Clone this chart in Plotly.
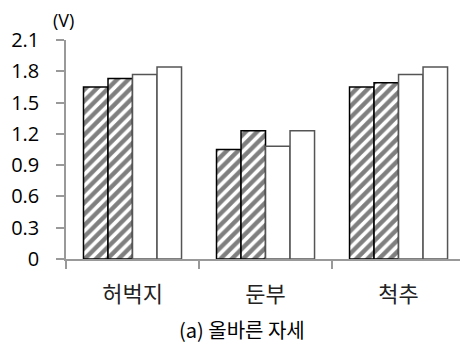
import plotly.graph_objects as go

# Muscle activity (V) per body region, four measurement conditions
categories = ["허벅지", "둔부", "척추"]
series_1 = [1.65, 1.05, 1.65]
series_2 = [1.73, 1.23, 1.69]
series_3 = [1.77, 1.08, 1.77]
series_4 = [1.84, 1.23, 1.84]
y_ticks = [0, 0.3, 0.6, 0.9, 1.2, 1.5, 1.8, 2.1]
y_tick_text = ["0", "0.3", "0.6", "0.9", "1.2", "1.5", "1.8", "2.1"]

FONT = "Noto Sans CJK KR"

fig = go.Figure()

hatched = dict(shape="/", fgcolor="black", bgcolor="white", size=8, solidity=0.55)
for vals in (series_1, series_2):
    fig.add_trace(go.Bar(
        x=categories, y=vals,
        marker=dict(color="white", pattern=hatched,
                    line=dict(color="black", width=1.5)),
    ))
for vals in (series_3, series_4):
    fig.add_trace(go.Bar(
        x=categories, y=vals,
        marker=dict(color="white", line=dict(color="#555555", width=1.5)),
    ))

fig.update_layout(
    width=460, height=345,
    margin=dict(l=66, r=0, t=40, b=86),
    paper_bgcolor="white", plot_bgcolor="white",
    barmode="group", bargap=0.263, bargroupgap=0,
    showlegend=False,
    font=dict(family=FONT, color="black"),
    xaxis=dict(
        type="category",
        range=[-0.5, 2.462],
        showline=True, linecolor="#999999", linewidth=1.5,
        ticks="outside", tickson="boundaries", ticklen=8,
        tickcolor="#999999", tickwidth=1.5,
        tickfont=dict(size=22, color="#222222", family=FONT),
        ticklabelstandoff=15,
        showgrid=False, zeroline=False,
    ),
    yaxis=dict(
        range=[0, 2.1],
        tickvals=y_ticks, ticktext=y_tick_text,
        showline=True, linecolor="#999999", linewidth=1.5,
        ticks="outside", ticklen=8, tickcolor="#999999", tickwidth=1.5,
        tickfont=dict(size=20, color="black", family="Open Sans"),
        ticklabelstandoff=13,
        showgrid=False, zeroline=False,
    ),
    annotations=[
        dict(text="(V)", x=63.5, y=20, xref="paper", yref="paper",
             xanchor="center", yanchor="middle",
             showarrow=False, font=dict(size=18, color="black", family="Open Sans")),
        dict(text="(a) 올바른 자세", x=241.5, y=329, xref="paper", yref="paper",
             xanchor="center", yanchor="middle",
             showarrow=False, font=dict(size=20, color="black", family=FONT)),
    ],
)

# annotation positions given in pixels; convert to paper coordinates
pw = 460 - 66
ph = 345 - 40 - 86
for ann in fig.layout.annotations:
    ann.x = (ann.x - 66) / pw
    ann.y = (345 - 86 - ann.y) / ph

fig.write_html("out.html")
